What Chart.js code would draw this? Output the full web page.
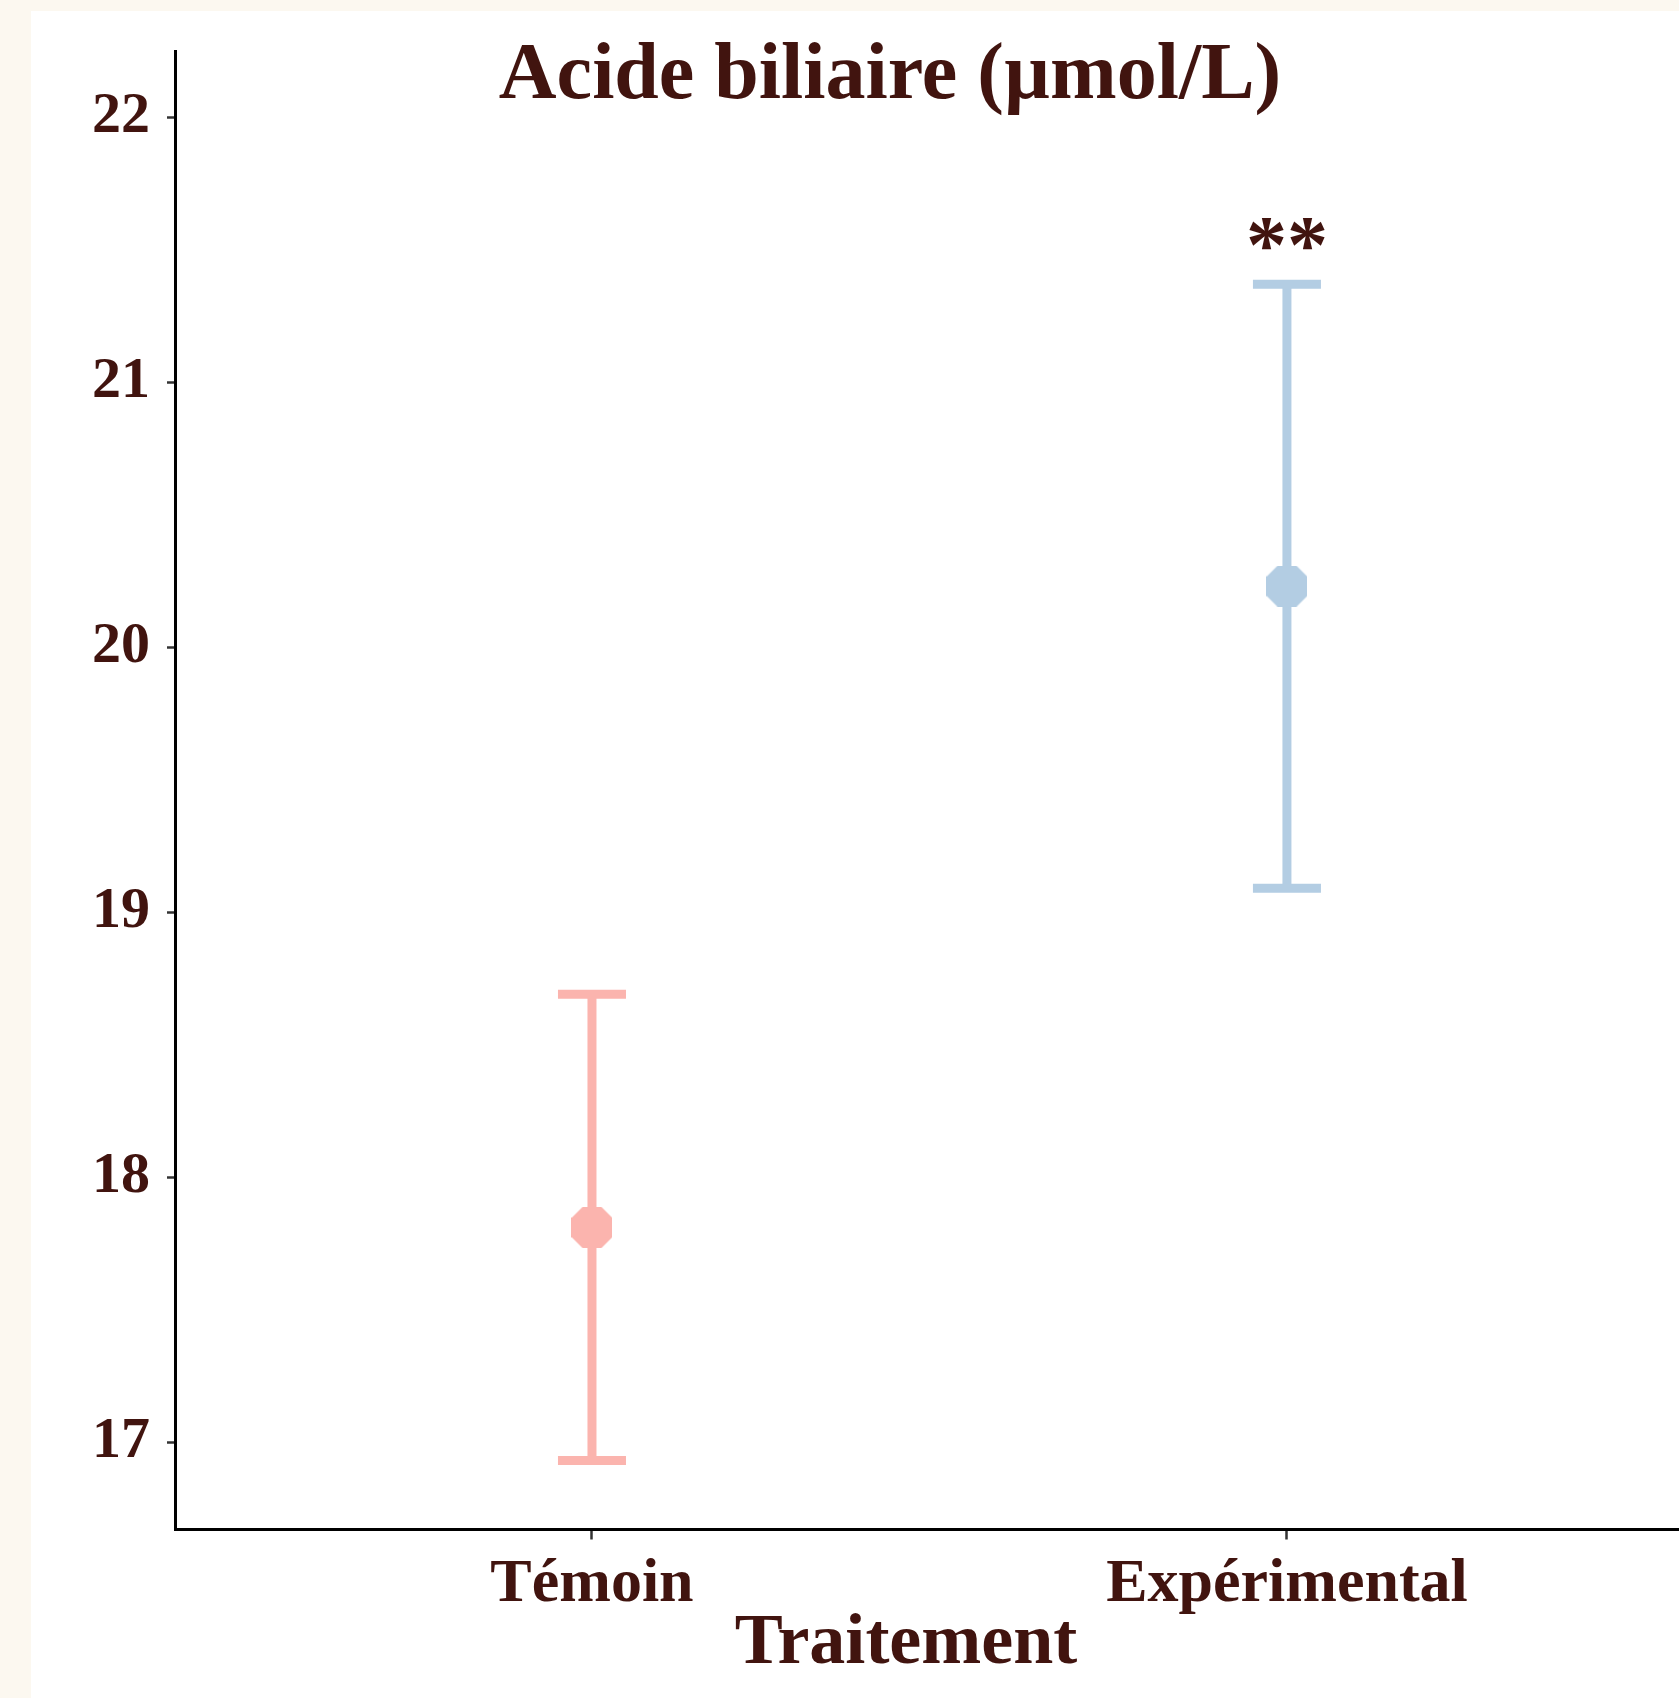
<!DOCTYPE html>
<html>
<head>
<meta charset="utf-8">
<script src="https://cdn.jsdelivr.net/npm/chart.js@4.4.1/dist/chart.umd.min.js"></script>
<style>
  html, body { margin: 0; padding: 0; background: #fcf8f0; overflow: hidden; width: 1679px; height: 1698px; }
  #wrap { position: absolute; left: 31px; top: 11px; width: 1648px; height: 1687px; background: #ffffff; }
  canvas { display: block; }
</style>
</head>
<body>
<div id="wrap"><canvas id="c" width="1648" height="1687"></canvas></div>
<script>
// Group means and half-widths of the error bars
const categories = ['Témoin', 'Expérimental'];
const means = [17.81, 20.23];
const errors = [0.88, 1.14];
const significance = ['', '**'];
const colors = ['#fbb4ae', '#b3cde3'];
const yTicks = [17, 18, 19, 20, 21, 22];
const chartTitle = 'Acide biliaire (µmol/L)';
const xAxisTitle = 'Traitement';

const FONT = "'Liberation Serif', 'Times New Roman', serif";
const INK = '#41140f';

// Octagonal marker drawn once per colour
function makeMarker(color) {
  const s = 41, k = 11;
  const cv = document.createElement('canvas');
  cv.width = s; cv.height = s;
  const g = cv.getContext('2d');
  g.fillStyle = color;
  g.beginPath();
  g.moveTo(k, 0); g.lineTo(s - k, 0); g.lineTo(s, k); g.lineTo(s, s - k);
  g.lineTo(s - k, s); g.lineTo(k, s); g.lineTo(0, s - k); g.lineTo(0, k);
  g.closePath();
  g.fill();
  return cv;
}

// Keep the plot area fixed: no extra room reserved for overhanging tick labels
function noOverhang(s) {
  s.paddingLeft = 0; s.paddingRight = 0; s.paddingTop = 0; s.paddingBottom = 0;
}

const errorBarsAndLabels = {
  id: 'errorBarsAndLabels',
  beforeDatasetsDraw(chart) {
    const { ctx, scales: { x, y } } = chart;
    ctx.save();
    ctx.lineCap = 'butt';
    ctx.lineWidth = 9;
    means.forEach((m, i) => {
      const px = x.getPixelForValue(i);
      const top = y.getPixelForValue(m + errors[i]);
      const bot = y.getPixelForValue(m - errors[i]);
      ctx.strokeStyle = colors[i];
      ctx.beginPath();
      ctx.moveTo(px, top); ctx.lineTo(px, bot);
      ctx.moveTo(px - 34, top); ctx.lineTo(px + 34, top);
      ctx.moveTo(px - 34, bot); ctx.lineTo(px + 34, bot);
      ctx.stroke();
    });
    ctx.restore();
  },
  afterDraw(chart) {
    const { ctx, scales: { x, y } } = chart;
    ctx.save();
    ctx.fillStyle = INK;
    ctx.textAlign = 'center';
    ctx.textBaseline = 'alphabetic';

    // significance stars above the upper cap
    ctx.font = `bold 82px ${FONT}`;
    means.forEach((m, i) => {
      if (!significance[i]) return;
      const px = x.getPixelForValue(i);
      const capY = y.getPixelForValue(m + errors[i]);
      const met = ctx.measureText(significance[i]);
      const bottom = capY - 34;
      ctx.fillText(significance[i], px, bottom - met.actualBoundingBoxDescent);
    });

    // chart title
    ctx.font = `bold 80px ${FONT}`;
    ctx.fillText(chartTitle, 859, 87);

    // x axis title
    ctx.font = `bold 72px ${FONT}`;
    ctx.fillText(xAxisTitle, 875, 1652);
    ctx.restore();
  }
};

new Chart(document.getElementById('c'), {
  type: 'scatter',
  data: {
    datasets: categories.map((c, i) => ({
      label: c,
      data: [{ x: i, y: means[i] }],
      pointStyle: makeMarker(colors[i]),
      // the marker canvas sets the drawn size; a tiny radius keeps the plot area unpadded
      pointRadius: 0.1,
      pointHoverRadius: 0.1,
      pointBorderWidth: 0,
      backgroundColor: colors[i],
      borderColor: colors[i],
      clip: false
    }))
  },
  options: {
    responsive: false,
    animation: false,
    events: [],
    layout: { padding: { top: 40, right: 0, bottom: 0, left: 0 } },
    plugins: { legend: { display: false }, tooltip: { enabled: false }, title: { display: false } },
    scales: {
      x: {
        type: 'linear',
        min: -0.6,
        max: 1.564,
        afterBuildTicks: s => { s.ticks = categories.map((c, i) => ({ value: i })); },
        afterFit: s => { s.height = 168.5; noOverhang(s); },
        ticks: {
          callback: v => categories[v],
          font: { family: FONT, size: 62, weight: 'bold' },
          color: INK,
          padding: 8,
          maxRotation: 0,
          autoSkip: false
        },
        grid: { display: true, drawOnChartArea: false, drawTicks: true, tickLength: 10, tickColor: '#333333', tickWidth: 2.5 },
        border: { display: true, color: '#000000', width: 3 }
      },
      y: {
        min: 16.67,
        max: 22.25,
        afterBuildTicks: s => { s.ticks = yTicks.map(v => ({ value: v })); },
        afterFit: s => { s.width = 144; noOverhang(s); },
        ticks: {
          font: { family: FONT, size: 58, weight: 'bold' },
          color: INK,
          padding: 17,
          autoSkip: false
        },
        grid: { display: true, drawOnChartArea: false, drawTicks: true, tickLength: 8, tickColor: '#333333', tickWidth: 2.5 },
        border: { display: true, color: '#000000', width: 3 }
      }
    }
  },
  plugins: [errorBarsAndLabels]
});
</script>
</body>
</html>
